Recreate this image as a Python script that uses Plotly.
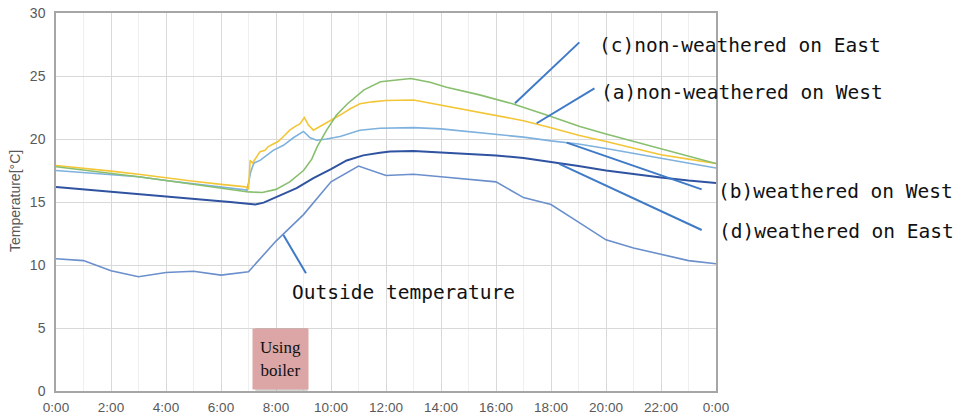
import plotly.graph_objects as go

# ---------------- data (hours, °C) ----------------
hours_outside = list(range(0, 25))
outside_temp = [10.5, 10.35, 9.55, 9.07, 9.4, 9.5, 9.2, 9.47, 11.9, 14.0, 16.6, 17.85,
                17.1, 17.2, 17.0, 16.8, 16.6, 15.35, 14.8, 13.4, 12.0, 11.35, 10.85, 10.35, 10.1]

hours_a = [0, 1, 2, 3, 4, 5, 6, 6.9, 7.0, 7.06, 7.15, 7.3, 7.42, 7.6, 7.72, 7.9, 8.08, 8.27,
           8.5, 8.7, 8.87, 9.03, 9.18, 9.36, 9.6, 9.96, 10.33, 10.7, 11.05, 11.5, 12, 13, 14,
           15, 16, 17, 18, 19, 20, 21, 22, 23, 24]
temp_a = [17.9, 17.7, 17.45, 17.2, 16.9, 16.65, 16.4, 16.2, 16.0, 18.3, 18.1, 18.65, 19.0,
          19.1, 19.4, 19.6, 19.8, 20.2, 20.7, 21.0, 21.2, 21.7, 21.1, 20.7, 21.0, 21.4, 21.9,
          22.4, 22.8, 22.95, 23.05, 23.1, 22.7, 22.3, 21.9, 21.45, 20.9, 20.3, 19.8, 19.25,
          18.75, 18.4, 18.05]

hours_b = [0, 1, 2, 3, 4, 5, 6, 6.95, 7.08, 7.2, 7.42, 7.66, 7.9, 8.27, 8.63, 9.0, 9.24,
           9.48, 9.84, 10.33, 11.05, 11.78, 13, 14, 15, 16, 17, 18, 19, 20, 21, 22, 23, 24]
temp_b = [17.5, 17.35, 17.15, 17.0, 16.7, 16.45, 16.2, 15.95, 17.4, 18.1, 18.3, 18.7, 19.1,
          19.5, 20.1, 20.6, 20.1, 19.9, 20.0, 20.2, 20.7, 20.85, 20.9, 20.8, 20.6, 20.4,
          20.15, 19.85, 19.6, 19.25, 18.85, 18.5, 18.1, 17.7]

hours_c = [0, 1, 2, 3, 4, 5, 6, 7, 7.5, 8, 8.5, 9, 9.3, 9.5, 9.84, 10.2, 10.6, 11.2, 11.8,
           12.4, 12.9, 13.6, 14.2, 15.4, 16.6, 17.84, 19.05, 20, 21, 22, 23, 24]
temp_c = [17.8, 17.55, 17.3, 17.0, 16.7, 16.4, 16.1, 15.8, 15.75, 16.0, 16.6, 17.5, 18.4,
          19.4, 20.7, 21.9, 22.8, 23.9, 24.55, 24.7, 24.8, 24.5, 24.1, 23.5, 22.8, 21.9,
          21.0, 20.4, 19.8, 19.2, 18.6, 18.05]

hours_d = [0, 1, 2, 3, 4, 5, 6, 6.33, 7, 7.25, 7.55, 8, 8.75, 9.36, 10, 10.57, 11.17, 11.78,
           12.15, 13, 14, 15, 16, 17, 18, 19, 20, 21, 22, 23, 24]
temp_d = [16.2, 16.0, 15.8, 15.6, 15.4, 15.2, 15.05, 15.0, 14.85, 14.8, 14.95, 15.4, 16.1,
          16.9, 17.6, 18.3, 18.7, 18.9, 19.0, 19.05, 18.95, 18.85, 18.7, 18.5, 18.2, 17.85,
          17.5, 17.2, 16.95, 16.7, 16.5]

tick_hours = list(range(0, 25, 2))
tick_labels = ["0:00", "2:00", "4:00", "6:00", "8:00", "10:00", "12:00", "14:00",
               "16:00", "18:00", "20:00", "22:00", "0:00"]

series_labels = ["(c)non-weathered on East", "(a)non-weathered on West",
                 "(b)weathered on West", "(d)weathered on East", "Outside temperature"]

# ---------------- figure ----------------
fig = go.Figure()
fig.add_trace(go.Scatter(x=hours_outside, y=outside_temp, mode="lines",
                         line=dict(color="#6A8FCC", width=1.6), name="Outside"))
fig.add_trace(go.Scatter(x=hours_d, y=temp_d, mode="lines",
                         line=dict(color="#2F53A0", width=2), name="d"))
fig.add_trace(go.Scatter(x=hours_b, y=temp_b, mode="lines",
                         line=dict(color="#7EB1DE", width=1.6), name="b"))
fig.add_trace(go.Scatter(x=hours_a, y=temp_a, mode="lines",
                         line=dict(color="#F3C637", width=1.6), name="a"))
fig.add_trace(go.Scatter(x=hours_c, y=temp_c, mode="lines",
                         line=dict(color="#88BF6E", width=1.6), name="c"))

ptr = dict(color="#3F7AC6", width=2)
pointers = [
    ((16.69, 22.83), (19.03, 27.67)),
    ((17.48, 21.25), (19.58, 24.02)),
    ((18.57, 19.71), (23.48, 16.0)),
    ((18.30, 18.02), (23.48, 12.78)),
    ((8.27, 12.38), (9.09, 9.34)),
]
for (x0, y0), (x1, y1) in pointers:
    fig.add_shape(type="line", xref="x", yref="y", x0=x0, y0=y0, x1=x1, y1=y1, line=ptr)

# label anchors in paper coordinates (left edge, vertical middle)
label_pos = [(0.8197, 0.9153), (0.8227, 0.7884), (1.0, 0.5272), (1.0015, 0.4214),
             (0.3544, 0.2611)]
for txt, (lx, ly) in zip(series_labels, label_pos):
    fig.add_annotation(x=lx, y=ly, xref="paper", yref="paper", text=txt, showarrow=False,
                       xanchor="left", yanchor="middle",
                       font=dict(family="DejaVu Sans Mono", size=19.5, color="#111111"))

# "Using boiler" box with shadow
fig.add_shape(type="rect", xref="x", yref="y", x0=7.25, x1=9.15, y0=-0.05, y1=5.0,
              line=dict(width=0), fillcolor="rgba(120,120,120,0.3)")
fig.add_annotation(x=8.15, y=0.08, xref="x", yref="y", text="Using<br>boiler",
                   showarrow=False, xanchor="center", yanchor="bottom",
                   width=55, height=60, bgcolor="#DCA6A6", borderpad=0,
                   font=dict(family="Liberation Serif", size=17, color="#111111"))

fig.add_annotation(x=-0.062, y=0.503, xref="paper", yref="paper", text="Temperature[°C]",
                   showarrow=False, textangle=-90, xanchor="center", yanchor="middle",
                   font=dict(family="Liberation Sans", size=14, color="#595959"))

fig.update_layout(
    width=966, height=417,
    margin=dict(l=56, r=250, t=13, b=26, autoexpand=False),
    paper_bgcolor="white", plot_bgcolor="white",
    showlegend=False,
    font=dict(family="Liberation Sans", color="#595959"),
)
fig.update_xaxes(range=[0, 24], tickvals=tick_hours, ticktext=tick_labels, automargin=False,
                 showgrid=True, gridcolor="#D9D9D9", gridwidth=1,
                 minor=dict(dtick=1, showgrid=True, gridcolor="#EFEFEF", gridwidth=1),
                 showline=True, linecolor="#A6A6A6", linewidth=1.5, mirror=True,
                 zeroline=False, ticks="", ticklabelstandoff=3,
                 tickfont=dict(size=13.5, color="#595959"))
fig.update_yaxes(range=[0, 30], dtick=5, automargin=False,
                 showgrid=True, gridcolor="#D9D9D9", gridwidth=1,
                 showline=True, linecolor="#A6A6A6", linewidth=1.5, mirror=True,
                 zeroline=False, ticks="", ticklabelstandoff=6,
                 tickfont=dict(size=14, color="#595959"))

fig.write_html("out.html", config={"displayModeBar": False},
               post_script="document.body.style.margin='0';")
